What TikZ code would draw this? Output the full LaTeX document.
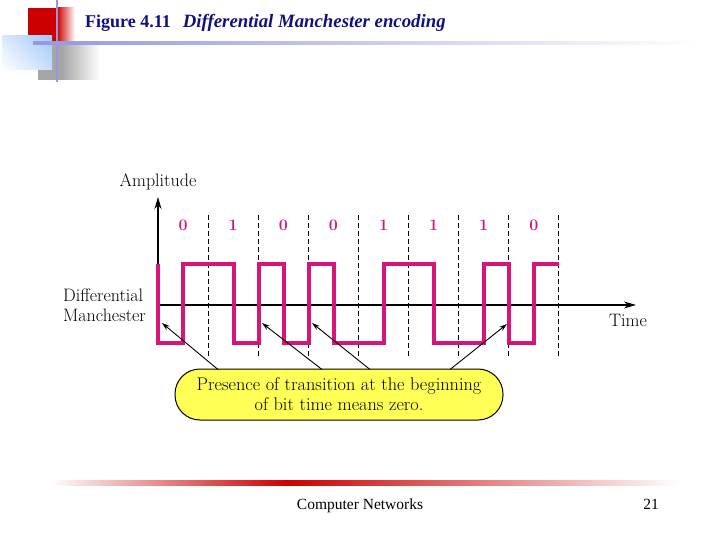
\documentclass[tikz,border=0pt]{standalone}
\usepackage{fontspec}
\newfontfamily\titlefont{Liberation Serif}
\usetikzlibrary{arrows.meta,shadings}
\definecolor{wave}{RGB}{214,20,122}
\definecolor{navy}{RGB}{16,16,128}
\definecolor{lav}{RGB}{150,150,225}
\definecolor{callfill}{RGB}{255,255,85}
\definecolor{deckred}{RGB}{204,0,0}
\definecolor{lblue}{RGB}{160,200,250}
\tikzset{
  lbl/.style={inner sep=0pt,font=\fontsize{18}{19.5}\selectfont},
  bit/.style={inner sep=0pt,text=wave,font=\fontsize{16}{16}\selectfont\bfseries},
  axis/.style={line width=1.2pt,-{Stealth[length=12pt,width=7pt]}},
  bitline/.style={line width=1pt,dash pattern=on 5pt off 3pt},
  sig/.style={line width=4.3pt,wave,line join=miter},
  ptr/.style={line width=0.9pt,-{Stealth[length=8pt,width=5pt]}},
  callout/.style={draw,line width=1pt,fill=callfill,rounded corners=25pt,
    minimum width=328pt,minimum height=51pt,align=center,inner sep=0pt,
    font=\fontsize{18.3}{20}\selectfont},
}
\begin{document}
\begin{tikzpicture}[x=1pt,y=-1pt]
\useasboundingbox (0,0) rectangle (720,540);
% header decoration
\fill[deckred] (28,8) rectangle (57,42);
\shade[left color=deckred,right color=white] (57,8) rectangle (75,42);
\fill[gray!70] (38,43) rectangle (62,80);
\shade[left color=gray!70,right color=white] (62,43) rectangle (100,80);
\shade[upper right=lblue,lower left=white,upper left=lblue!40,lower right=lblue!60] (2,36) rectangle (52,70);
\draw[lav,line width=2pt] (57,0) -- (57,82);
\shade[left color=lav,right color=white] (33,42) rectangle (700,45);
% title
\node[anchor=base west,inner sep=0pt,text=navy,font=\titlefont\fontsize{18}{18}\selectfont\bfseries] (title)
  at (85,28) {Figure 4.11\hspace{12pt}\itshape\fontsize{18.8}{18}\selectfont Differential Manchester encoding};
% footer
\shade[left color=white,right color=deckred] (50,480) rectangle (287,485);
\shade[left color=deckred,right color=white] (287,480) rectangle (680,485);
\node[anchor=base,inner sep=0pt,font=\titlefont\fontsize{15.5}{15.5}\selectfont] (foot) at (360,509) {Computer Networks};
\node[anchor=base,inner sep=0pt,font=\titlefont\fontsize{15.5}{15.5}\selectfont] (page) at (651,509) {21};
% axes
\coordinate (o) at (158,305);
\coordinate (ytop) at (158,197);
\coordinate (xend) at (636,305);
\draw[axis] (o) -- (ytop);
\draw[axis] (o) -- (xend);
\node[lbl] (amp) at (158,182) {Amplitude};
\node[lbl] (time) at (628,320) {Time};
\node[lbl,anchor=east,align=left] (dm) at (146,305.5) {Differential\\Manchester};
% bit boundaries and labels
\foreach \i in {1,...,8} {
  \coordinate (b\i top) at ({158+50.1*\i},215);
  \coordinate (b\i bot) at ({158+50.1*\i},356);
  \draw[bitline] (b\i top) -- (b\i bot);
}
\foreach \v [count=\i] in {0,1,0,0,1,1,1,0} {
  \node[bit] (bit\i) at ({158+50.1*\i-25},225) {\v};
}
% signal
\def\hi{264}\def\lo{343}
\draw[sig] (158,\hi) -- (158,\lo) -- (183,\lo) -- (183,\hi) -- (234,\hi) -- (234,\lo)
  -- (259,\lo) -- (259,\hi) -- (284,\hi) -- (284,\lo) -- (309,\lo) -- (309,\hi)
  -- (334,\hi) -- (334,\lo) -- (384,\lo) -- (384,\hi) -- (434,\hi) -- (434,\lo)
  -- (484,\lo) -- (484,\hi) -- (509,\hi) -- (509,\lo) -- (534,\lo) -- (534,\hi) -- (559,\hi);
% callout
\node[callout] (note) at (339,394.5) {Presence of transition at the beginning\\of bit time means zero.};
\coordinate (s1) at (218,369.5); \coordinate (t1) at (162,323);
\coordinate (s2) at (322,369.5); \coordinate (t2) at (262,323);
\coordinate (s3) at (370,369.5); \coordinate (t3) at (312,323);
\coordinate (s4) at (450,369.5); \coordinate (t4) at (507,324);
\foreach \k in {1,2,3,4} { \draw[ptr] (s\k) -- (t\k); }
\end{tikzpicture}
\end{document}
